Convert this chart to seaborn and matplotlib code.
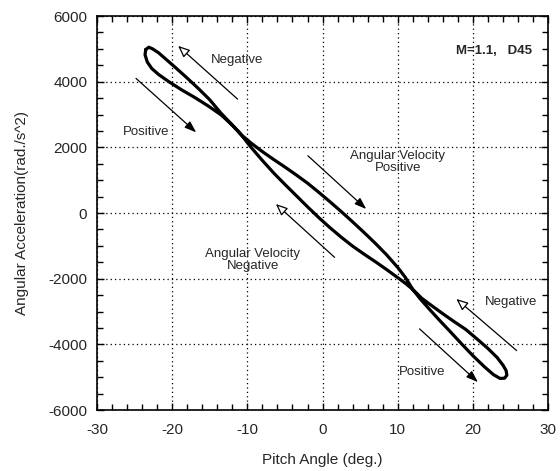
import matplotlib
matplotlib.use("Agg")
import matplotlib.pyplot as plt
import seaborn as sns
import pandas as pd

# Pitch angle / angular acceleration loop, traced once around the cycle
# (left tip -> increasing pitch -> right tip -> decreasing pitch -> left tip)
pitch = [-23.5, -23.6, -23.3, -22.7, -21.8, -20.5, -18.8, -17.0, -15.2, -13.5,
         -12.0, -10.8, -9.5, -8.0, -6.5, -5.0, -3.5, -2.0, -0.5, 1.0,
         2.5, 4.0, 5.5, 7.0, 8.5, 10.0, 11.0, 12.0, 13.0, 14.2,
         15.6, 17.0, 18.5, 20.0, 21.5, 22.7, 23.6, 24.2, 24.5, 24.4,
         24.0, 23.2, 22.0, 20.5, 19.0, 17.5, 16.0, 14.5, 13.2, 12.0,
         11.0, 10.0, 8.5, 7.0, 5.5, 4.0, 2.5, 1.0, -0.5, -2.0,
         -3.5, -5.0, -6.5, -8.0, -9.5, -10.8, -12.0, -13.5, -15.0, -16.5,
         -18.0, -19.5, -20.8, -21.8, -22.6, -23.1, -23.5]
accel = [4980, 4820, 4600, 4400, 4220, 4010, 3760, 3520, 3260, 2990,
         2680, 2380, 2130, 1870, 1630, 1400, 1160, 910, 630, 340,
         40, -270, -590, -920, -1270, -1660, -1960, -2330, -2620, -2930,
         -3280, -3620, -3990, -4350, -4680, -4920, -5040, -5030, -4940, -4800,
         -4640, -4400, -4130, -3830, -3540, -3310, -3070, -2820, -2600, -2330,
         -2140, -1970, -1720, -1480, -1250, -1010, -740, -450, -140, 190,
         530, 870, 1220, 1600, 2000, 2380, 2680, 3040, 3450, 3790,
         4110, 4420, 4680, 4880, 5000, 5050, 4980]

x_ticks = [-30, -20, -10, 0, 10, 20, 30]
y_ticks = [-6000, -4000, -2000, 0, 2000, 4000, 6000]

sns.set_style("ticks")
plt.rcParams["font.family"] = ["Liberation Sans", "DejaVu Sans"]

fig = plt.figure(figsize=(5.6, 4.71), dpi=100)
ax = fig.add_axes([0.173, 0.1295, 0.806, 0.8365])

df = pd.DataFrame({"pitch": pitch, "accel": accel})
sns.lineplot(data=df, x="pitch", y="accel", sort=False, estimator=None,
             color="black", lw=2.3, ax=ax,
             solid_joinstyle="round", solid_capstyle="round")

ax.set_xlim(-30, 30)
ax.set_ylim(-6000, 6000)
ax.set_xticks(x_ticks)
ax.set_yticks(y_ticks)
ax.set_xticks(range(-30, 31, 2), minor=True)
ax.set_yticks(range(-6000, 6001, 500), minor=True)
ax.set_xticklabels([str(v) for v in x_ticks], fontsize=11)
ax.set_yticklabels([str(v) for v in y_ticks], fontsize=11)
ax.tick_params(which="both", direction="in", top=True, right=True,
               color="black", width=1.0)
ax.tick_params(which="major", length=5)
ax.tick_params(which="minor", length=4)
ax.tick_params(axis="x", which="major", pad=9)
ax.tick_params(axis="y", which="major", pad=7)
ax.grid(True, which="major", color="black", linestyle=(0, (1, 2.5)), lw=0.9)
for s in ax.spines.values():
    s.set_color("black")
    s.set_linewidth(1.2)

ax.set_xlabel("Pitch Angle (deg.)", fontsize=11, labelpad=12)
ax.set_ylabel("Angular Acceleration(rad./s^2)", fontsize=11, labelpad=14)

ax.text(27.8, 4930, "M=1.1,   D45", fontsize=9.5, fontweight="bold",
        ha="right", va="center")

txt = dict(fontsize=9.5, ha="center", va="center", linespacing=1.0)
ax.text(-11.4, 4650, "Negative", **txt)
ax.text(-23.4, 2466, "Positive", **txt)
ax.text(10.0, 1560, "Angular Velocity\nPositive", **txt)
ax.text(-9.3, -1430, "Angular Velocity\nNegative", **txt)
ax.text(25.0, -2710, "Negative", **txt)
ax.text(13.3, -4830, "Positive", **txt)

pos = dict(arrowstyle="-|>,head_length=0.7,head_width=0.25",
           color="black", lw=0.9, shrinkA=0, shrinkB=0)
neg = dict(arrowstyle="-|>,head_length=0.7,head_width=0.3",
           edgecolor="black", facecolor="white", lw=0.9, shrinkA=0, shrinkB=0)
arrows = [
    ((-11.3, 3470), (-19.2, 5090), neg),
    ((-24.8, 4100), (-16.8, 2456), pos),
    ((-1.95, 1744), (5.8, 122), pos),
    ((1.6, -1350), (-6.2, 274), neg),
    ((25.8, -4190), (17.8, -2618), neg),
    ((12.9, -3530), (20.65, -5150), pos),
]
for tail, head, style in arrows:
    ax.annotate("", xy=head, xytext=tail, arrowprops=style)

fig.savefig("out.png", dpi=100)
